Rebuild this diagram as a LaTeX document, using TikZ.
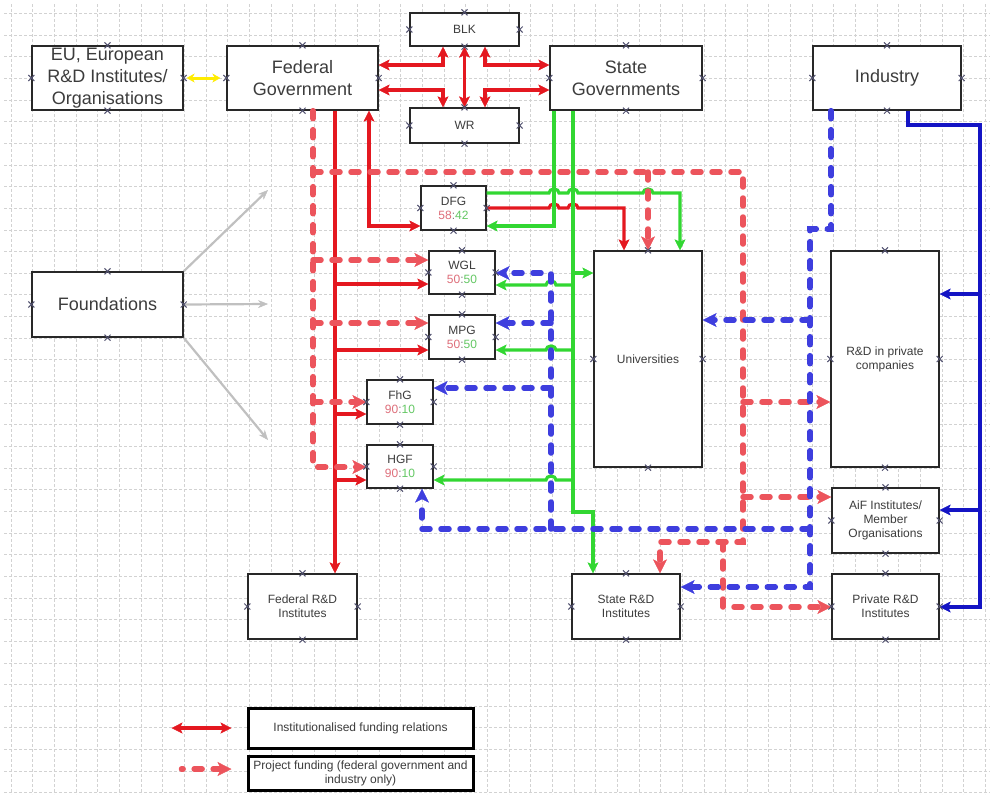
\documentclass[tikz,border=0pt]{standalone}
\usepackage{fontspec}
\setmainfont{Liberation Sans}
\usetikzlibrary{arrows.meta}
\definecolor{instred}{RGB}{228,24,32}
\definecolor{projred}{RGB}{236,84,92}
\definecolor{stategreen}{RGB}{50,215,50}
\definecolor{projblue}{RGB}{62,62,222}
\definecolor{instblue}{RGB}{20,20,196}
\definecolor{fgray}{RGB}{192,192,192}
\definecolor{euyellow}{RGB}{255,236,0}
\definecolor{boxline}{RGB}{40,40,40}
\definecolor{txtgray}{RGB}{60,60,60}
\definecolor{crossc}{RGB}{80,80,110}
\definecolor{ratred}{RGB}{222,110,122}
\definecolor{ratgreen}{RGB}{100,200,100}
\newcommand{\share}[2]{\textcolor{ratred}{#1}\textcolor{gray}{:}\textcolor{ratgreen}{#2}}
\tikzset{
	gridline/.style={draw=gray!35, line width=0.6pt, dash pattern=on 2.5pt off 2.5pt},
	bigbox/.style={draw=boxline, fill=white, line width=1.4pt, inner sep=0pt, align=center, text=txtgray, font=\fontsize{18}{22}\selectfont},
	smallbox/.style={bigbox, font=\fontsize{12}{14}\selectfont},
	legbox/.style={draw=black, fill=white, line width=3pt, inner sep=0pt, align=center, text=txtgray, font=\fontsize{12}{14}\selectfont},
	crossmark/.style={draw=crossc, line width=1pt},
	inst/.style={draw=instred, line width=3.2pt, >={Stealth[length=11pt,width=11pt,inset=2.5pt,line width=0.5pt]}},
	grn/.style={inst, draw=stategreen},
	binst/.style={inst, draw=instblue},
	proj/.style={draw=projred, line width=5.5pt, line cap=round, dash pattern=on 8pt off 11pt, >={Stealth[length=14pt,width=14pt,inset=3.5pt,line width=0.5pt]}},
	bproj/.style={proj, draw=projblue},
	fnd/.style={draw=fgray, line width=2.2pt, ->, >={Stealth[length=10pt,width=8pt,line width=0.5pt]}},
	eulink/.style={draw=euyellow, line width=3pt, >={Stealth[length=8pt,width=9pt,line width=0.5pt]}},
}
\begin{document}
\begin{tikzpicture}[x=1pt,y=-1pt]
	\useasboundingbox (0,0) rectangle (994,796);
	% grid
	\foreach \i in {0,...,45}
		\draw[gridline] ({11+21.65*\i},4) -- ({11+21.65*\i},794);
	\foreach \j in {0,...,36}
		\draw[gridline] (4,{13.3+21.65*\j}) -- (990,{13.3+21.65*\j});
	% boxes
	\node[bigbox,minimum width=151pt,minimum height=64pt] at (107.5,78) (eu) {EU, European\\R\&D Institutes/\\Organisations};
	\node[bigbox,minimum width=151pt,minimum height=64pt] at (302.5,78) (fed) {Federal\\Government};
	\node[smallbox,minimum width=109pt,minimum height=33pt] at (464.5,29.5) (blk) {BLK};
	\node[smallbox,minimum width=109pt,minimum height=35pt] at (464.5,125.5) (wr) {WR};
	\node[bigbox,minimum width=152pt,minimum height=64pt] at (626,78) (state) {State\\Governments};
	\node[bigbox,minimum width=148pt,minimum height=64pt] at (887,78) (ind) {Industry};
	\node[bigbox,minimum width=151pt,minimum height=65pt] at (107.5,304.5) (found) {Foundations};
	\node[smallbox,minimum width=65pt,minimum height=44pt] at (453.5,208) (dfg) {DFG\\\share{58}{42}};
	\node[smallbox,minimum width=66pt,minimum height=43pt] at (462,272.5) (wgl) {WGL\\\share{50}{50}};
	\node[smallbox,minimum width=66pt,minimum height=44pt] at (462,337) (mpg) {MPG\\\share{50}{50}};
	\node[smallbox,minimum width=66pt,minimum height=44pt] at (400,402) (fhg) {FhG\\\share{90}{10}};
	\node[smallbox,minimum width=66pt,minimum height=43pt] at (400,466.5) (hgf) {HGF\\\share{90}{10}};
	\node[smallbox,minimum width=108pt,minimum height=216pt] at (648,359) (uni) {Universities};
	\node[smallbox,minimum width=108pt,minimum height=216pt] at (885,359) (rdp) {R\&D in private\\companies};
	\node[smallbox,minimum width=107pt,minimum height=65pt] at (885.5,520.5) (aif) {AiF Institutes/\\Member\\Organisations};
	\node[smallbox,minimum width=107pt,minimum height=65pt] at (885.5,606.5) (prd) {Private R\&D\\Institutes};
	\node[smallbox,minimum width=108pt,minimum height=65pt] at (626,606.5) (srd) {State R\&D\\Institutes};
	\node[smallbox,minimum width=109pt,minimum height=65pt] at (302.5,606.5) (frd) {Federal R\&D\\Institutes};
	\node[legbox,minimum width=225pt,minimum height=40pt] at (360.5,728) (leg1) {Institutionalised funding relations};
	\node[legbox,minimum width=225pt,minimum height=34pt] at (360.5,773) (leg2) {Project funding (federal government and\\industry only)};
	% foundations and EU
	\coordinate (fnd1) at (268,190);
	\coordinate (fnd2) at (268,304);
	\coordinate (fnd3) at (268,440);
	\draw[fnd] (found.north east) -- (fnd1);
	\draw[fnd] (found.east) -- (fnd2);
	\draw[fnd] (found.south east) -- (fnd3);
	\draw[eulink,<->,shorten <=3pt,shorten >=6pt] (eu.east) -- (fed.west);
	% institutional funding, federal
	\draw[inst,<->] (blk.south) -- (wr.north);
	\draw[inst,<->] (fed.east |- 0,65) -- (443,65) -- (443,0 |- blk.south);
	\draw[inst,<->] (state.west |- 0,65) -- (485,65) -- (485,0 |- blk.south);
	\draw[inst,<->] (fed.east |- 0,90) -- (443,90) -- (443,0 |- wr.north);
	\draw[inst,<->] (state.west |- 0,90) -- (485,90) -- (485,0 |- wr.north);
	\draw[inst,->] (335,0 |- fed.south) -- (335,0 |- frd.north);
	\foreach \y/\n in {284/wgl,350/mpg,414/fhg,480/hgf}
		\draw[inst,->] (335,\y) -- (\n.west |- 0,\y);
	\draw[inst,<->] (369,0 |- fed.south) -- (369,226) -- (dfg.west |- 0,226);
	\draw[inst,->] (dfg.east) -- (549,208) arc[start angle=180,end angle=360,x radius=5,y radius=4]
		-- (568,208) arc[start angle=180,end angle=360,x radius=5,y radius=4] -- (624,208) -- (624,0 |- uni.north);
	% institutional funding, states
	\draw[grn,->] (554,0 |- state.south) -- (554,226) -- (dfg.east |- 0,226);
	\draw[grn,->] (573,0 |- state.south) -- (573,512) -- (593,512) -- (593,0 |- srd.north);
	\draw[grn,->] (573,273) -- (uni.west |- 0,273);
	\foreach \y/\n in {285/wgl,350/mpg,480/hgf}
		\draw[grn,->] (573,\y) -- (556,\y) arc[start angle=360,end angle=180,x radius=5,y radius=4] -- (\n.east |- 0,\y);
	\draw[grn,->] (dfg.east |- 0,193) -- (549,193) arc[start angle=180,end angle=360,x radius=5,y radius=4]
		-- (568,193) arc[start angle=180,end angle=360,x radius=5,y radius=4]
		-- (643,193) arc[start angle=180,end angle=360,x radius=5,y radius=4] -- (680,193) -- (680,0 |- uni.north);
	% project funding, federal
	\draw[proj,->] (313,0 |- fed.south) -- (313,467) -- (hgf.west |- 0,467);
	\draw[proj,->] (313,172) -- (743,172) -- (743,542) -- (660,542) -- (660,0 |- srd.north);
	\draw[proj,->] (648,172) -- (648,0 |- uni.north);
	\foreach \y/\n in {260/wgl,323/mpg,402/fhg}
		\draw[proj,->] (313,\y) -- (\n.west |- 0,\y);
	\draw[proj,->] (743,402) -- (rdp.west |- 0,402);
	\draw[proj,->] (743,497) -- (aif.west |- 0,497);
	\draw[proj,->] (723,542) -- (723,607) -- (prd.west |- 0,607);
	% project funding, industry
	\draw[bproj,->] (831,0 |- ind.south) -- (831,229) -- (810,229) -- (810,587) -- (srd.east |- 0,587);
	\draw[bproj,->] (810,320) -- (uni.east |- 0,320);
	\draw[bproj,->] (810,529) -- (422,529) -- (422,0 |- hgf.south);
	\draw[bproj,->] (551,529) -- (551,273) -- (wgl.east |- 0,273);
	\foreach \y/\n in {323/mpg,388/fhg}
		\draw[bproj,->] (551,\y) -- (\n.east |- 0,\y);
	% institutional funding, industry
	\draw[binst,->] (908,0 |- ind.south) -- (908,125) -- (980,125) -- (980,607) -- (prd.east |- 0,607);
	\foreach \y/\n in {294/rdp,510/aif}
		\draw[binst,->] (980,\y) -- (\n.east |- 0,\y);
	% legend
	\draw[inst,<->] ([xshift=-15pt]leg1.west) -- ++(-60,0);
	\draw[proj,<-] ([xshift=-15pt,yshift=4pt]leg2.west) -- ++(-50,0);
	% connection marks
	\foreach \n in {eu,fed,blk,wr,state,ind,found,dfg,wgl,mpg,fhg,hgf,uni,rdp,aif,prd,srd,frd}
		\foreach \a in {north,south,east,west}
			\draw[crossmark] (\n.\a) +(-3,-3) -- +(3,3) +(-3,3) -- +(3,-3);
\end{tikzpicture}
\end{document}
